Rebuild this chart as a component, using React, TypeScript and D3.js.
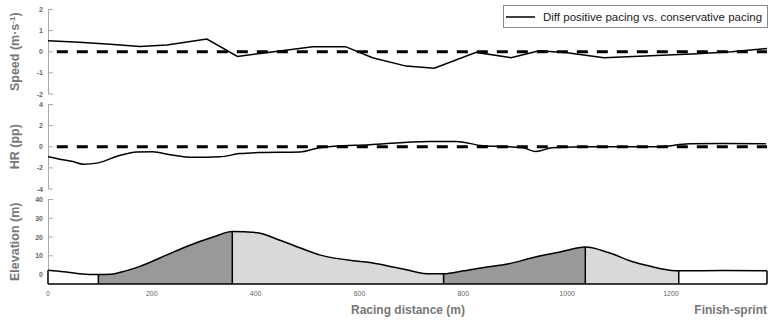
import React from 'react';
import * as d3 from 'd3';

const width = 770;
const height = 324;

// racing distance (m) / value pairs
const speedDist = [0, 60, 120, 177, 229, 306, 365, 420, 510, 573, 625, 690, 744, 825, 892, 946, 1000, 1071, 1150, 1250, 1317, 1385];
const speedDiff = [0.52, 0.45, 0.35, 0.25, 0.32, 0.6, -0.22, -0.05, 0.24, 0.24, -0.28, -0.68, -0.78, -0.03, -0.28, 0.05, -0.05, -0.28, -0.2, -0.1, 0.0, 0.15];

const hrDist = [0, 25, 48, 68, 94, 133, 171, 202, 235, 279, 331, 369, 408, 485, 523, 619, 735, 786, 837, 888, 915, 940, 971, 1050, 1177, 1235, 1300, 1383];
const hrDiff = [-0.95, -1.2, -1.4, -1.65, -1.55, -0.9, -0.5, -0.48, -0.75, -1.0, -0.95, -0.65, -0.55, -0.5, -0.1, 0.2, 0.5, 0.5, 0.1, 0.0, -0.1, -0.45, -0.1, 0.0, 0.0, 0.28, 0.3, 0.28];

const elevDist = [0, 30, 60, 97, 120, 150, 177, 229, 267, 318, 355, 404, 440, 471, 523, 587, 620, 644, 690, 729, 762, 800, 837, 888, 933, 990, 1035, 1081, 1125, 1160, 1183, 1215, 1300, 1385];
const elevation = [2.3, 1.5, 0.5, 0, 0.2, 2, 4.4, 10.5, 15, 20, 23, 22.3, 19, 15.8, 10.5, 7.4, 6.5, 5.3, 2.6, 0.5, 0.5, 2, 3.7, 5.8, 9, 12.3, 14.7, 11.6, 7, 4.5, 3, 2, 2.2, 2];

// course sections: flat / uphill / downhill
const sectionBreaks = [0, 97, 355, 762, 1035, 1215, 1385];
const sectionType = ['flat', 'up', 'down', 'up', 'down', 'flat'];

const xTicks = [0, 200, 400, 600, 800, 1000, 1200];
const speedTicks = [-2, -1, 0, 1, 2];
const hrTicks = [-4, -2, 0, 2, 4];
const elevTicks = [0, 10, 20, 30, 40];

const legendLabel = 'Diff positive pacing vs. conservative pacing';

const fills = { flat: '#ffffff', up: '#999999', down: '#d9d9d9' };
const font = 'Liberation Sans, Arial, sans-serif';
const axisColor = '#aaaaaa';
const labelColor = '#777777';

const x = d3.scaleLinear().domain([0, 1385]).range([48, 767]);
const ySpeed = d3.scaleLinear().domain([-2, 2]).range([94, 9.5]);
const yHr = d3.scaleLinear().domain([-4, 4]).range([189, 104.5]);
const yElev = d3.scaleLinear().domain([-5, 40]).range([284, 199.5]);

function YAxis({ scale, ticks }) {
  const [lo, hi] = scale.domain();
  return (
    <g fontFamily={font} fontSize={7} fontWeight="bold" fill="#666">
      <line x1={48.5} x2={48.5} y1={scale(hi)} y2={scale(lo)} stroke={axisColor} />
      {ticks.map(t => (
        <g key={t}>
          <line x1={48} x2={53} y1={scale(t)} y2={scale(t)} stroke={axisColor} />
          <text x={43} y={scale(t) + 2.5} textAnchor="end">{t}</text>
        </g>
      ))}
    </g>
  );
}

function DiffPanel({ dist, values, scale, curve }) {
  const line = d3.line().x(d => x(d[0])).y(d => scale(d[1])).curve(curve);
  const pts = dist.map((d, i) => [d, values[i]]);
  return (
    <g>
      <line x1={x(17)} x2={x(1385)} y1={scale(0)} y2={scale(0)} stroke="#000" strokeWidth={3} strokeDasharray="11,9" />
      <path d={line(pts)} fill="none" stroke="#000" strokeWidth={1.5} />
    </g>
  );
}

export default function App() {
  const elevPts = elevDist.map((d, i) => [d, elevation[i]]);
  const elevAt = d3.scaleLinear().domain(elevDist).range(elevation);
  const area = d3.area().x(d => x(d[0])).y0(yElev(-5)).y1(d => yElev(d[1])).curve(d3.curveMonotoneX);
  const top = d3.line().x(d => x(d[0])).y(d => yElev(d[1])).curve(d3.curveMonotoneX);

  const sections = sectionType.map((type, i) => {
    const a = sectionBreaks[i];
    const b = sectionBreaks[i + 1];
    const pts = [[a, elevAt(a)], ...elevPts.filter(p => p[0] > a && p[0] < b), [b, elevAt(b)]];
    return { type, a, b, pts };
  });

  return (
    <svg width={width} height={height} style={{ position: 'absolute', left: 0, top: 0, background: '#fff' }}>
      {/* legend */}
      <rect x={503.5} y={5.5} width={264} height={22} fill="#fff" stroke="#888" />
      <line x1={506} x2={535} y1={17} y2={17} stroke="#000" strokeWidth={1.5} />
      <text x={543} y={20.5} fontFamily={font} fontSize={11.5} fill="#222">{legendLabel}</text>

      {/* speed */}
      <YAxis scale={ySpeed} ticks={speedTicks} />
      <DiffPanel dist={speedDist} values={speedDiff} scale={ySpeed} curve={d3.curveLinear} />

      {/* heart rate */}
      <YAxis scale={yHr} ticks={hrTicks} />
      <DiffPanel dist={hrDist} values={hrDiff} scale={yHr} curve={d3.curveMonotoneX} />

      {/* elevation */}
      <YAxis scale={yElev} ticks={elevTicks} />
      {sections.map((s, i) => (
        <path key={i} d={area(s.pts)} fill={fills[s.type]} stroke="none" />
      ))}
      {sectionBreaks.map((b, i) => (
        <line key={i} x1={x(b)} x2={x(b)} y1={yElev(-5)} y2={yElev(elevAt(b))} stroke="#000" strokeWidth={1.5} />
      ))}
      <path d={top(elevPts)} fill="none" stroke="#000" strokeWidth={1.5} />
      <line x1={x(0)} x2={x(1385)} y1={yElev(-5)} y2={yElev(-5)} stroke="#000" strokeWidth={1.5} />

      {/* x tick labels */}
      <g fontFamily={font} fontSize={7} fill="#666">
        {xTicks.map(t => (
          <text key={t} x={x(t)} y={296} textAnchor="middle">{t}</text>
        ))}
      </g>

      {/* axis titles */}
      <g fontFamily={font} fontSize={12.5} fontWeight="bold" fill={labelColor}>
        <text transform={`translate(19,${ySpeed(0)}) rotate(-90)`} textAnchor="middle">
          Speed (m·s<tspan fontSize={8} dy={-4}>-1</tspan><tspan dy={4}>)</tspan>
        </text>
        <text transform={`translate(19,${yHr(0)}) rotate(-90)`} textAnchor="middle">HR (pp)</text>
        <text transform={`translate(19,${yElev(17.5)}) rotate(-90)`} textAnchor="middle">Elevation (m)</text>
      </g>
      <g fontFamily={font} fontSize={12} fontWeight="bold" fill={labelColor}>
        <text x={408} y={314} textAnchor="middle">Racing distance (m)</text>
        <text x={767} y={314} textAnchor="end">Finish-sprint</text>
      </g>
    </svg>
  );
}
